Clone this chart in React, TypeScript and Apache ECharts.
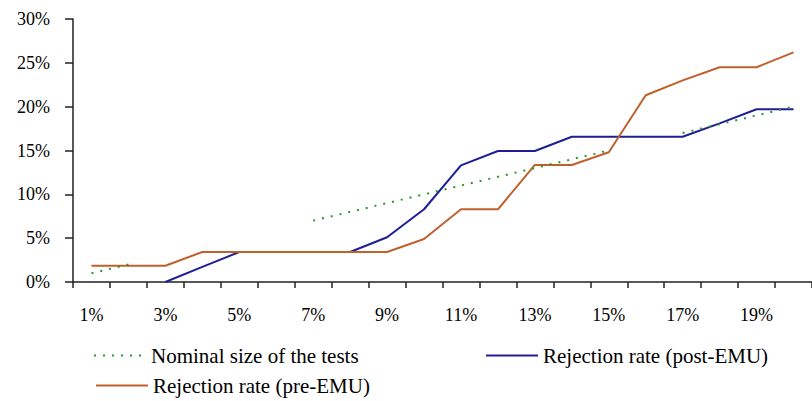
import React, { useEffect, useRef } from "react";
import * as echarts from "echarts";

const categories = ["1%","2%","3%","4%","5%","6%","7%","8%","9%","10%","11%","12%","13%","14%","15%","16%","17%","18%","19%","20%"];
const nominalSize = [1, 2, null, 4, null, null, 7, 8, 9, 10, 11, 12, 13, 14, 15, null, 17, 18, 19, 20];
const rejectionPost = [null, null, 0, 1.72, 3.42, 3.42, 3.42, 3.42, 5.1, 8.3, 13.3, 14.94, 14.94, 16.57, 16.57, 16.57, 16.57, 18.1, 19.7, 19.7];
const rejectionPre = [1.86, 1.86, 1.86, 3.42, 3.42, 3.42, 3.42, 3.42, 3.42, 4.9, 8.29, 8.29, 13.35, 13.35, 14.8, 21.3, 23.0, 24.5, 24.5, 26.2];
const yTicks = [0, 5, 10, 15, 20, 25, 30];

const NAME_NOM = "Nominal size of the tests";
const NAME_POST = "Rejection rate (post-EMU)";
const NAME_PRE = "Rejection rate (pre-EMU)";

const FONT = "'Liberation Serif', 'Times New Roman', serif";

export default function App() {
  const ref = useRef<HTMLDivElement>(null);
  useEffect(() => {
    if (!ref.current) return;
    const chart = echarts.init(ref.current, null, { renderer: "svg" });
    const mkLegend = (name: string, left: number, top: number) => ({
      data: [name],
      left,
      top,
      itemWidth: 52,
      itemHeight: 14,
      itemStyle: { opacity: 0, borderWidth: 0 },
      textStyle: { fontFamily: FONT, fontSize: 21, color: "#000" },
      inactiveColor: "#000",
    });
    chart.setOption({
      animation: false,
      backgroundColor: "#fff",
      textStyle: { fontFamily: FONT },
      grid: { left: 73, top: 19, width: 746, height: 263, containLabel: false },
      xAxis: {
        type: "category",
        data: categories,
        boundaryGap: true,
        axisLine: { show: true, lineStyle: { color: "#222", width: 1.5 } },
        axisTick: { show: true, interval: 0, length: 6, lineStyle: { color: "#222", width: 1.5 } },
        axisLabel: { interval: 1, margin: 24, fontFamily: FONT, fontSize: 18, color: "#000" },
        splitLine: { show: false },
      },
      yAxis: {
        type: "value",
        min: yTicks[0],
        max: yTicks[yTicks.length - 1],
        interval: 5,
        axisLine: { show: true, lineStyle: { color: "#222", width: 1.5 } },
        axisTick: { show: true, length: 8, lineStyle: { color: "#222", width: 1.5 } },
        axisLabel: { margin: 23, fontFamily: FONT, fontSize: 18, color: "#000", formatter: "{value}%" },
        splitLine: { show: false },
      },
      legend: [
        mkLegend(NAME_NOM, 88, 340),
        mkLegend(NAME_POST, 480, 340),
        mkLegend(NAME_PRE, 90, 370),
      ],
      series: [
        {
          name: NAME_NOM,
          type: "line",
          data: nominalSize,
          symbol: "none",
          lineStyle: { color: "#2a962a", width: 2, type: [2, 7] },
          itemStyle: { color: "#2a962a" },
          z: 3,
        },
        {
          name: NAME_POST,
          type: "line",
          data: rejectionPost,
          symbol: "none",
          lineStyle: { color: "#1e1e96", width: 2 },
          itemStyle: { color: "#1e1e96" },
          z: 2,
        },
        {
          name: NAME_PRE,
          type: "line",
          data: rejectionPre,
          symbol: "none",
          lineStyle: { color: "#c0602c", width: 2 },
          itemStyle: { color: "#c0602c" },
          z: 2,
        },
      ],
    });
    return () => chart.dispose();
  }, []);
  return (
    <div style={{ position: "absolute", left: 0, top: 0, width: 812, height: 401, overflow: "hidden", background: "#fff" }}>
      <div ref={ref} style={{ width: 812, height: 401 }} />
    </div>
  );
}
